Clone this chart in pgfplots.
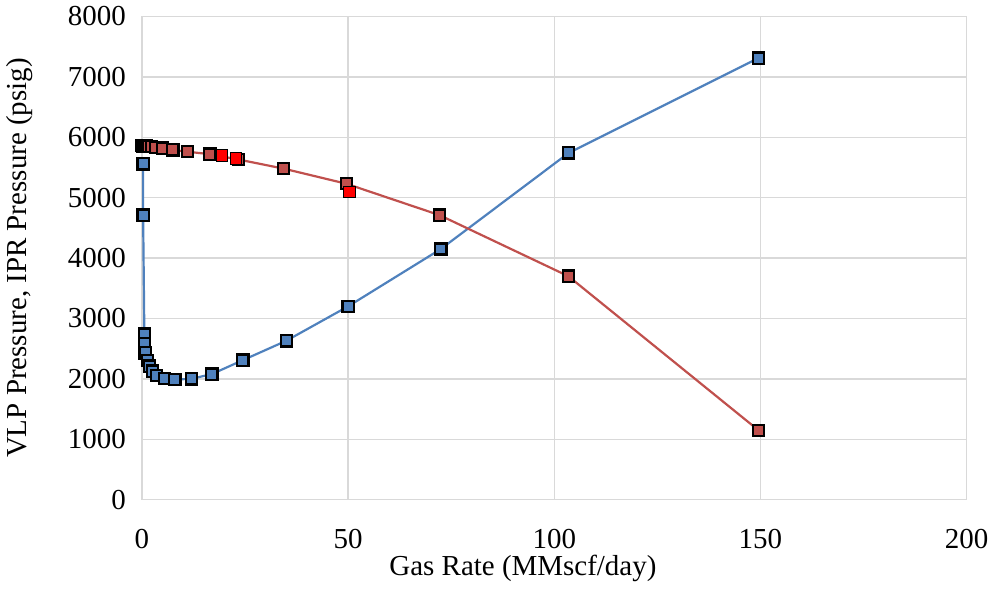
\documentclass[border=0pt]{standalone}
\usepackage{pgfplots}
\pgfplotsset{compat=1.18}
\usepackage{fontspec}
\setmainfont{Liberation Serif}
\definecolor{vlp}{RGB}{79,129,189}
\definecolor{ipr}{RGB}{192,80,77}
\definecolor{gridc}{RGB}{217,217,217}
\begin{document}
\begin{tikzpicture}
\begin{axis}[
  width=413pt, height=242pt, scale only axis,
  xmin=0, xmax=200, ymin=0, ymax=8000,
  xtick={0,50,...,200}, ytick={0,1000,...,8000},
  grid=major, major grid style={draw=gridc, line width=0.7pt},
  axis line style={draw=gridc, line width=0.7pt},
  tick style={draw=none},
  /pgf/number format/assume math mode=true,
  /pgf/number format/set thousands separator={},
  ticklabel style={font=\fontsize{14.5}{16}\selectfont},
  xticklabel style={yshift=-11.5pt},
  yticklabel style={xshift=-4.5pt},
  xlabel={Gas Rate (MMscf/day)},
  ylabel={VLP Pressure, IPR Pressure (psig)},
  label style={font=\fontsize{14.5}{16}\selectfont},
  xlabel style={at={(axis description cs:0.462,0)}, anchor=center, yshift=-34.5pt},
  ylabel style={at={(axis description cs:-0.148,0.5)}, anchor=center},
  mark options={solid, draw=black, line width=0.6pt},
]
\addplot[color=vlp, line width=1.1pt, mark=square*, mark size=2.8pt, mark options={fill=vlp, draw=black}] coordinates {
(0.3,5560) (0.3,4710) (0.6,2740) (0.6,2590) (0.8,2430) (1.3,2300) (1.8,2210) (2.5,2130) (3.5,2060) (5.5,2010) (8,1990) (12,2000) (17,2080) (24.5,2310) (35,2630) (50,3200) (72.5,4150) (103.5,5740) (149.5,7310)
};
\addplot[color=ipr, line width=1.1pt, mark=square*, mark size=2.8pt, mark options={fill=ipr, draw=black}] coordinates {
(0,5860) (0.3,5858) (0.7,5855) (1.1,5852) (1.6,5848) (2.3,5842) (3.3,5835) (5,5820) (7.5,5790) (11,5760) (16.5,5720) (23.5,5630) (34.4,5480) (49.6,5230) (72.2,4710) (103.4,3700) (149.5,1150)
};
\addplot[only marks, mark=square*, mark size=2.8pt, mark options={fill=red, draw=black}] coordinates {
(19.5,5700) (22.8,5650) (50.3,5100)
};
\end{axis}
\end{tikzpicture}
\end{document}
